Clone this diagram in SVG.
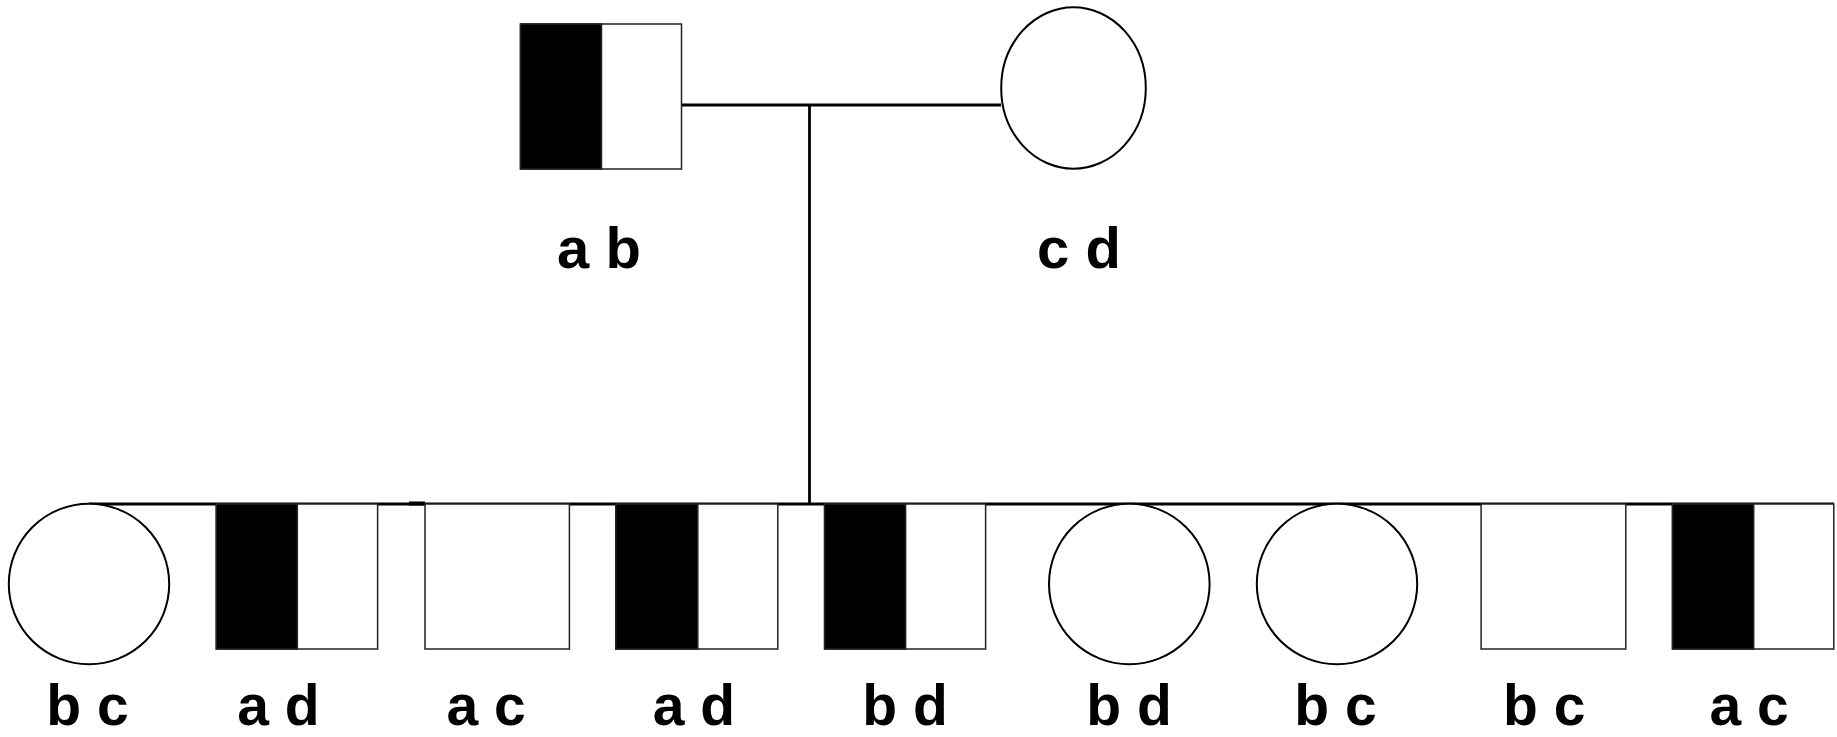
<svg xmlns="http://www.w3.org/2000/svg" width="1837" height="737" viewBox="0 0 1837 737">
  <style>
    .box { fill: #fff; stroke: #222; stroke-width: 1.5; }
    .half { fill: #000; stroke: #222; stroke-width: 1.5; }
    .ring { fill: #fff; stroke: #000; stroke-width: 2; }
    .link { stroke: #000; stroke-width: 2.8; fill: none; }
    .lbl { font-family: "Liberation Sans", Arial, sans-serif; font-weight: bold; font-size: 58px; fill: #000; text-anchor: middle; }
    .low { font-size: 57px; }
  </style>
  <rect width="1837" height="737" fill="#fff"/>

  <!-- connectors -->
  <g id="connectors">
    <line class="link" x1="681.7" y1="105" x2="1001" y2="105"/>
    <line class="link" x1="809.5" y1="105" x2="809.5" y2="504"/>
    <line class="link" x1="89" y1="504" x2="1834" y2="504"/>
    <rect x="409" y="501.5" width="16" height="4" fill="#000"/>
  </g>

  <!-- parents -->
  <g id="father">
    <rect class="box" x="520.5" y="24" width="161" height="145"/>
    <rect class="half" x="520.5" y="24" width="81" height="145"/>
    <text class="lbl" x="599" y="268">a b</text>
  </g>
  <g id="mother">
    <ellipse class="ring" cx="1073.5" cy="88" rx="72.3" ry="80.7"/>
    <text class="lbl" x="1079" y="268">c d</text>
  </g>

  <!-- offspring -->
  <g id="child1">
    <circle class="ring" cx="89" cy="584" r="80.2"/>
    <text class="lbl low" x="87.5" y="725">b c</text>
  </g>
  <g id="child2">
    <rect class="box" x="216.3" y="504" width="161.3" height="145"/>
    <rect class="half" x="216.3" y="504" width="81" height="145"/>
    <text class="lbl low" x="278.5" y="725">a d</text>
  </g>
  <g id="child3">
    <rect class="box" x="425" y="504" width="144.4" height="145"/>
    <text class="lbl low" x="486" y="725">a c</text>
  </g>
  <g id="child4">
    <rect class="box" x="615.8" y="504" width="162" height="145"/>
    <rect class="half" x="615.8" y="504" width="82" height="145"/>
    <text class="lbl low" x="694" y="725">a d</text>
  </g>
  <g id="child5">
    <rect class="box" x="824.6" y="504" width="161" height="145"/>
    <rect class="half" x="824.6" y="504" width="81" height="145"/>
    <text class="lbl low" x="905" y="725">b d</text>
  </g>
  <g id="child6">
    <circle class="ring" cx="1129.3" cy="584" r="80.3"/>
    <text class="lbl low" x="1129" y="725">b d</text>
  </g>
  <g id="child7">
    <circle class="ring" cx="1337" cy="584" r="80.2"/>
    <text class="lbl low" x="1335.5" y="725">b c</text>
  </g>
  <g id="child8">
    <rect class="box" x="1481.1" y="504" width="144.7" height="145"/>
    <text class="lbl low" x="1544.3" y="725">b c</text>
  </g>
  <g id="child9">
    <rect class="box" x="1672.5" y="504" width="161.3" height="145"/>
    <rect class="half" x="1672.5" y="504" width="81.2" height="145"/>
    <text class="lbl low" x="1749" y="725">a c</text>
  </g>
</svg>
